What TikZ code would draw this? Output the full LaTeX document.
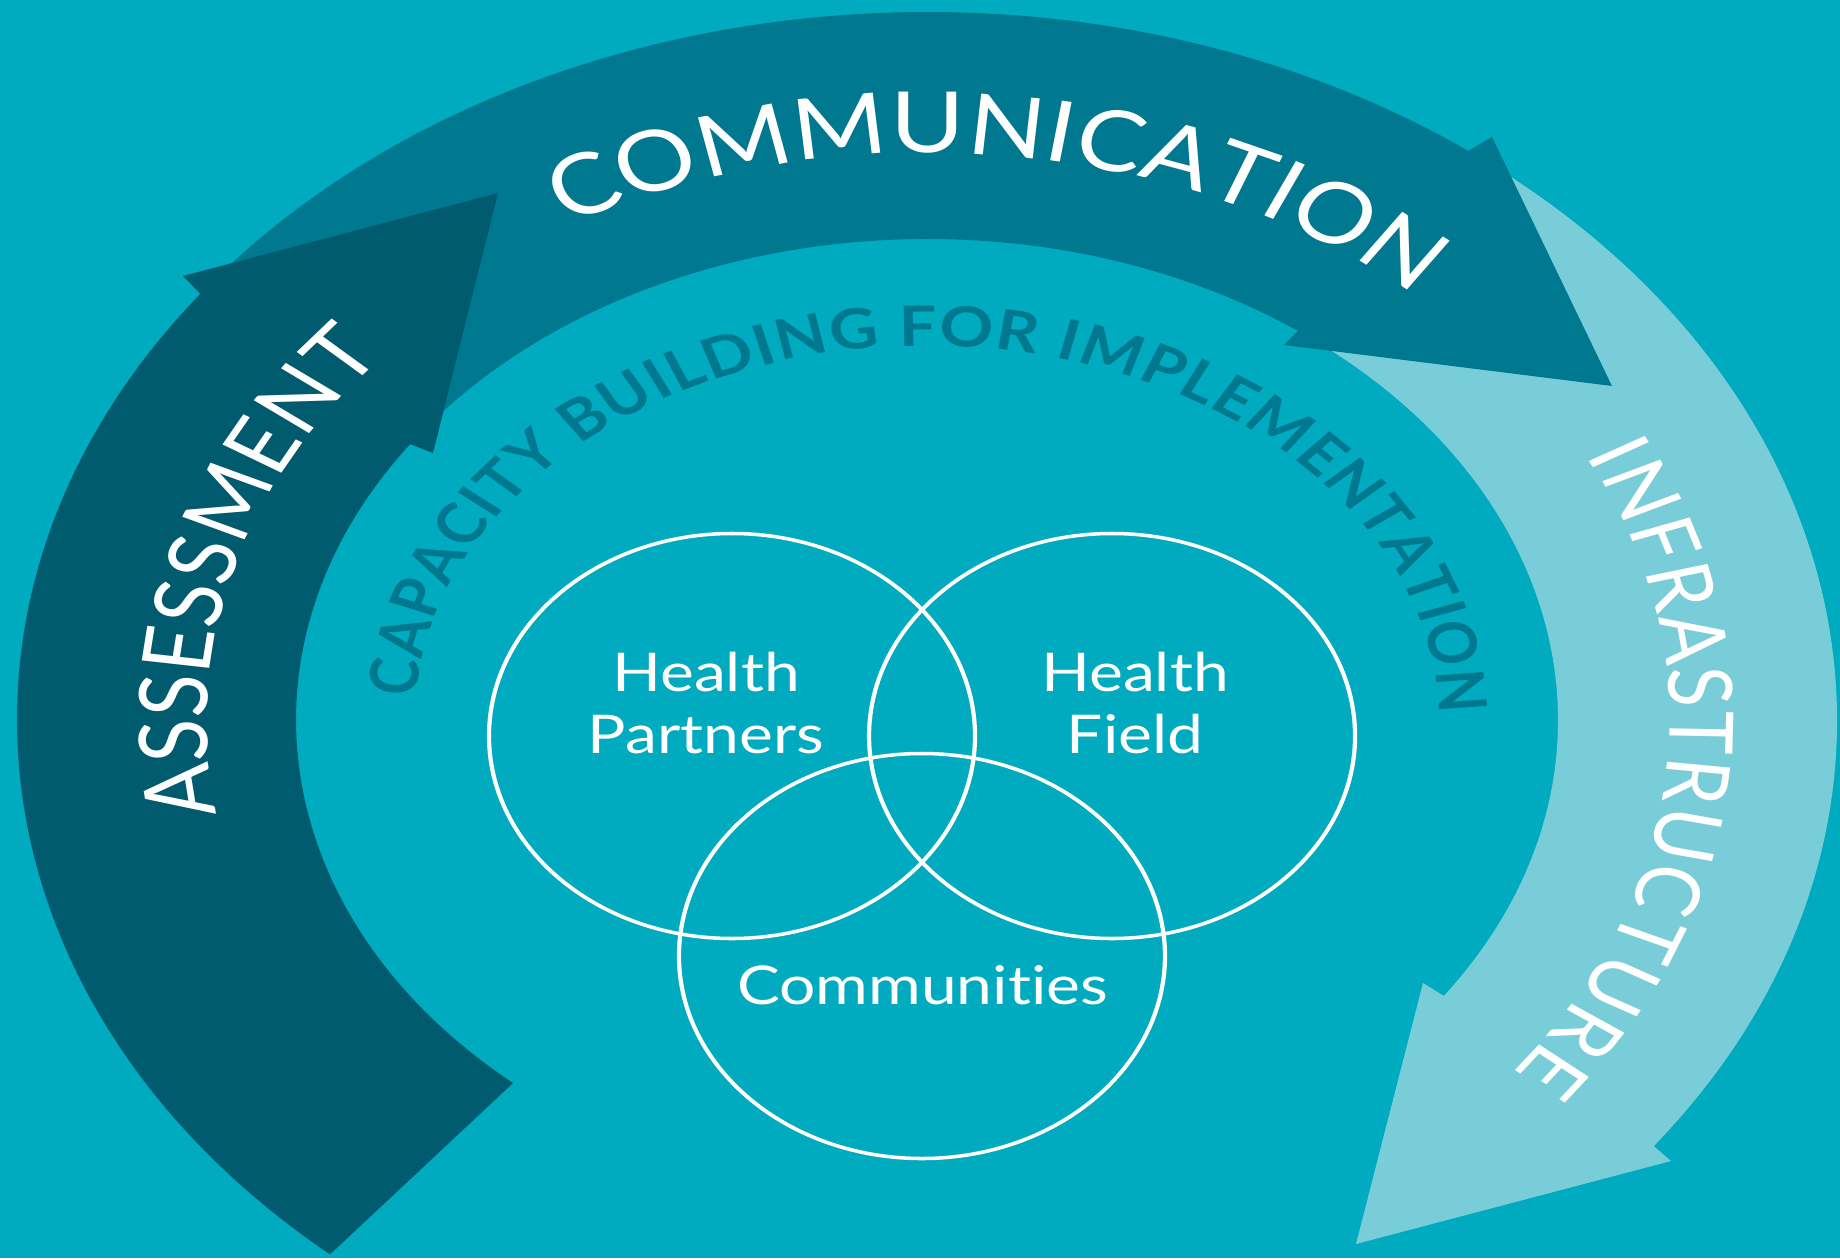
\documentclass[tikz,border=0pt]{standalone}
\usepackage{fontspec}
\setmainfont{Lato}[Ligatures=NoCommon]
\usepackage{xcolor}
\usetikzlibrary{decorations.text}

\definecolor{bgteal}{HTML}{00AABF}
\definecolor{commteal}{HTML}{00788F}
\definecolor{assessteal}{HTML}{005B6F}
\definecolor{infrateal}{HTML}{79CDD9}

\newcommand{\bandfont}{\fontsize{24}{27}\selectfont}
\newcommand{\sidefont}{\fontsize{22.5}{26}\selectfont}
\newcommand{\infrafont}{\fontsize{21}{24}\selectfont}
\newcommand{\capfont}{\fontsize{15.8}{19}\selectfont\bfseries}
\newcommand{\vennfont}{\fontsize{15.2}{17.6}\selectfont}

\begin{document}
\begin{tikzpicture}[
  venn/.style={circle,draw=white,line width=1pt,minimum size=4.05cm,inner sep=0pt},
  vennlabel/.style={text=white,font=\vennfont,align=center},
  ringlabel/.style 2 args={decorate,decoration={text along path,text align={fit to path},text color=#1,text={#2}}}]
\useasboundingbox (0,0) rectangle (18.4,12.58);
\fill[bgteal] (0,0) rectangle (18.4,12.58);
\begin{scope}[transform canvas={xscale=1.2}]
\begin{scope}[shift={(7.725,5.38)}]
% the three arrows of the ring
\fill[infrateal] (53:7.583cm and 7.08cm) arc[start angle=53,end angle=-37,x radius=7.583,y radius=7.08]
  -- (6.2,-4.41) -- (3.575,-5.24) -- (4.133,-2.63)
  -- (-35:5.258cm and 4.81cm) arc[start angle=-35,end angle=53,x radius=5.258,y radius=4.81] -- cycle;
\fill[commteal] (140:7.583cm and 7.08cm) arc[start angle=140,end angle=53.5,x radius=7.583,y radius=7.08]
  -- (4.708,5.83) -- (5.708,3.34) -- (2.975,3.75)
  -- (54:5.258cm and 4.81cm) arc[start angle=54,end angle=140,x radius=5.258,y radius=4.81] -- cycle;
\fill[assessteal] (229:7.583cm and 7.08cm) arc[start angle=229,end angle=143,x radius=7.583,y radius=7.08]
  -- (-6.2,4.44) -- (-3.575,5.27) -- (-4.117,2.67)
  -- (145:5.258cm and 4.81cm) arc[start angle=145,end angle=229,x radius=5.258,y radius=4.81] -- cycle;

\path[ringlabel={white}{|\sidefont|ASSESSMENT}] (189.8:6cm and 5.536cm) arc[start angle=189.8,end angle=138.9,x radius=6,y radius=5.536];
\path[ringlabel={white}{|\bandfont|COMMUNICATION}] (119.2:6.139cm and 5.67cm) arc[start angle=119.2,end angle=48.6,x radius=6.139,y radius=5.67];
\path[ringlabel={white}{|\infrafont|INFRASTRUCTURE}] (27.5:6.19cm and 5.72cm) arc[start angle=27.5,end angle=-38,x radius=6.19,y radius=5.72];
\path[ringlabel={commteal}{|\capfont|CAPACITY BUILDING FOR IMPLEMENTATION}] (176.5:4.267cm and 3.74cm) arc[start angle=176.5,end angle=1,x radius=4.267,y radius=3.74];

\node[venn] (partners) at (-1.625,-0.16) {};
\node[venn] (field) at (1.542,-0.16) {};
\node[venn] (communities) at (-0.042,-2.36) {};
\node[vennlabel] (partnerstext) at (-1.842,0.17) {Health\\Partners};
\node[vennlabel] (fieldtext) at (1.733,0.17) {Health\\Field};
\node[vennlabel,anchor=base] (communitiestext) at (-0.0375,-2.84) {Communities};
\end{scope}
\end{scope}
\end{tikzpicture}
\end{document}
